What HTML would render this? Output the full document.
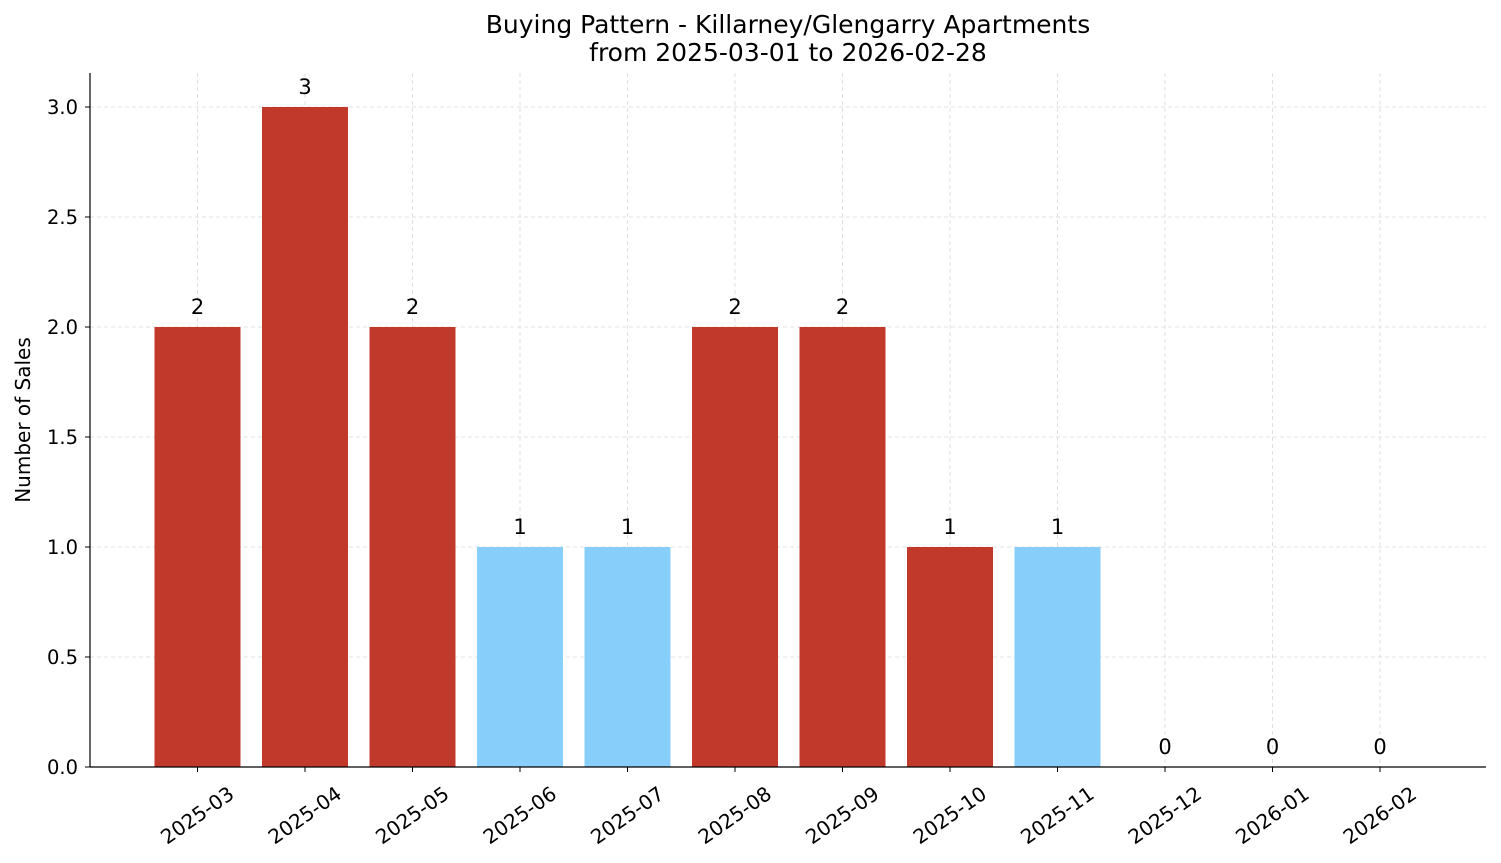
<!DOCTYPE html>
<html><head><meta charset="utf-8"><style>
body{margin:0;background:#fff}
svg{display:block;font-family:"DejaVu Sans","Liberation Sans",sans-serif}
</style></head><body>
<svg id="chart" width="1501" height="863">
<text x="788" y="33" text-anchor="middle" font-size="25">Buying Pattern - Killarney/Glengarry Apartments</text>
<text x="788" y="61" text-anchor="middle" font-size="25">from 2025-03-01 to 2026-02-28</text>
<text transform="translate(30,420) rotate(-90)" text-anchor="middle" font-size="20">Number of Sales</text>
<g id="grid"></g><g id="bars"></g><g id="axes"></g>
</svg>
<script>
const categories=["2025-03","2025-04","2025-05","2025-06","2025-07","2025-08","2025-09","2025-10","2025-11","2025-12","2026-01","2026-02"];
const salesValues=[2,3,2,1,1,2,2,1,1,0,0,0];
const highlight=[true,true,true,false,false,true,true,true,false,false,false,false];
const yTicks=[0,0.5,1,1.5,2,2.5,3];
const NS="http://www.w3.org/2000/svg";
const L=90,R=1486,T=73,B=767;
const y=v=>B-v*220;
const x=i=>197.5+i*107.5;
function mk(tag,attrs,parent){const e=document.createElementNS(NS,tag);for(const k in attrs)e.setAttribute(k,attrs[k]);parent.appendChild(e);return e;}
const grid=document.getElementById('grid'),bars=document.getElementById('bars'),axes=document.getElementById('axes');
yTicks.forEach(t=>{
 const g=mk('line',{x1:L,x2:R,y1:y(t),y2:y(t),stroke:'#d8d8d8','stroke-dasharray':'4,3','stroke-width':0.8},grid);
 
 
 const tk=mk('line',{x1:L-5,x2:L,y1:y(t),y2:y(t),stroke:'#000'},axes);
 
 
 const lb=mk('text',{x:L-12,y:y(t)+7,'text-anchor':'end','font-size':19.5},axes);
 lb.textContent=t.toFixed(1);
 
 
});
categories.forEach((c,i)=>{
 const g=mk('line',{x1:x(i),x2:x(i),y1:T,y2:B,stroke:'#d8d8d8','stroke-dasharray':'4,3','stroke-width':0.8},grid);
 
 
 const v=salesValues[i];
 const r=mk('rect',{x:x(i)-43,y:y(v),width:86,height:B-y(v),fill:highlight[i]?'#C0392B':'#87CEFA'},bars);
 
 
 const vl=mk('text',{x:x(i),y:y(v)-13,'text-anchor':'middle','font-size':21},bars);
 vl.textContent=v;
 
 
 const tk=mk('line',{x1:x(i),x2:x(i),y1:B,y2:B+5,stroke:'#000'},axes);
 
 
 const lb=mk('text',{transform:`translate(${x(i)+38},${B+30}) rotate(-35)`,'text-anchor':'end','font-size':20},axes);
 lb.textContent=c;
 
 
});
const ya=mk('line',{x1:L,x2:L,y1:T,y2:B,stroke:'#000','stroke-width':1.2},axes);


const xa=mk('line',{x1:L,x2:R,y1:B,y2:B,stroke:'#000','stroke-width':1.2},axes);


</script>
</body></html>
